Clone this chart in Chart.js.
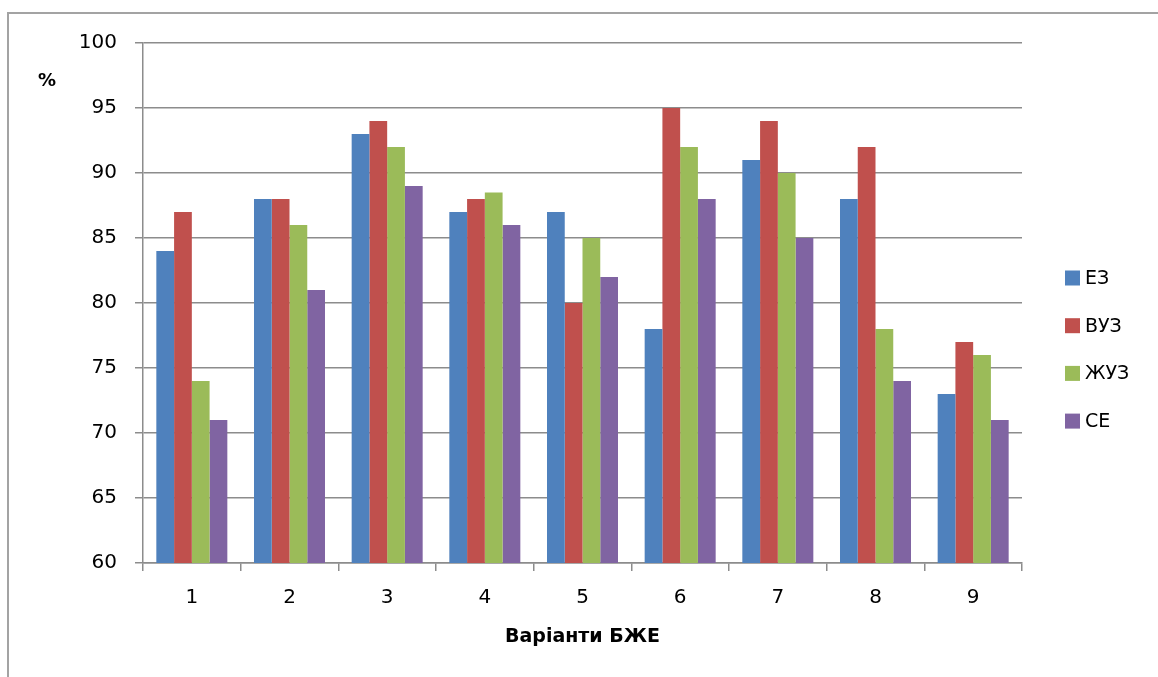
<!DOCTYPE html>
<html>
<head>
<meta charset="utf-8">
<script src="https://cdn.jsdelivr.net/npm/chart.js@4/dist/chart.umd.min.js"></script>
<style>
  html, body { margin: 0; padding: 0; background: #fff; }
  #wrap { position: relative; width: 1158px; height: 677px; overflow: hidden; }
  #frame { position: absolute; left: 7px; top: 12px; right: -10px; bottom: -10px;
           border-left: 2px solid #a3a3a3; border-top: 2px solid #a3a3a3; }
  canvas { position: absolute; left: 0; top: 0; }
</style>
</head>
<body>
<div id="wrap">
  <div id="frame"></div>
  <canvas id="chart" width="1158" height="677"></canvas>
</div>
<script>
// Варіанти БЖЕ (x categories)
const categories = ['1', '2', '3', '4', '5', '6', '7', '8', '9'];

// Series names
const seriesNames = ['ЕЗ', 'ВУЗ', 'ЖУЗ', 'СЕ'];

// Values, %
const ezValues   = [84, 88, 93, 87,   87, 78, 91, 88, 73];
const vuzValues  = [87, 88, 94, 88,   80, 95, 94, 92, 77];
const zhuzValues = [74, 86, 92, 88.5, 85, 92, 90, 78, 76];
const seValues   = [71, 81, 89, 86,   82, 88, 85, 74, 71];

// Value axis range
const yMin = 60;
const yMax = 100;
const yStep = 5;

const seriesColors = ['#4F81BD', '#C0504D', '#9BBB59', '#8064A2'];
const seriesValues = [ezValues, vuzValues, zhuzValues, seValues];

const FONT = '"DejaVu Sans", sans-serif';

// Legend on the right side, drawn beside the plot
const sideLegend = {
  id: 'sideLegend',
  afterDraw(chart) {
    const ctx = chart.ctx;
    ctx.save();
    ctx.font = '19px ' + FONT;
    ctx.textBaseline = 'middle';
    ctx.textAlign = 'left';
    chart.data.datasets.forEach((ds, i) => {
      const y = 278 + i * 47.7;
      ctx.fillStyle = ds.backgroundColor;
      ctx.fillRect(1065, y - 7.5, 15, 15);
      ctx.fillStyle = '#000';
      ctx.fillText(ds.label, 1085, y + 1);
    });
    ctx.restore();
  }
};

// Unit label above the value axis
const unitLabel = {
  id: 'unitLabel',
  afterDraw(chart) {
    const ctx = chart.ctx;
    ctx.save();
    ctx.font = 'bold 18px ' + FONT;
    ctx.fillStyle = '#000';
    ctx.textAlign = 'center';
    ctx.textBaseline = 'middle';
    ctx.fillText('%', 47, 81);
    ctx.restore();
  }
};

new Chart(document.getElementById('chart'), {
  type: 'bar',
  data: {
    labels: categories,
    datasets: seriesNames.map((name, i) => ({
      label: name,
      data: seriesValues[i],
      backgroundColor: seriesColors[i],
      borderWidth: 0,
      categoryPercentage: 0.727,
      barPercentage: 1.0
    }))
  },
  options: {
    responsive: false,
    animation: false,
    devicePixelRatio: 1,
    layout: { padding: { top: 43, left: 0, right: 136, bottom: 0 } },
    plugins: {
      legend: { display: false },
      tooltip: { enabled: false }
    },
    scales: {
      x: {
        grid: {
          drawOnChartArea: false,
          drawTicks: true,
          tickLength: 8,
          color: '#8c8c8c',
          lineWidth: 1.5
        },
        border: { display: true, color: '#8c8c8c', width: 1.5 },
        ticks: { color: '#000', font: { family: FONT, size: 20 }, padding: 15 },
        title: {
          display: true,
          text: 'Варіанти БЖЕ',
          color: '#000',
          font: { family: FONT, size: 19, weight: 'bold' },
          padding: { top: 0, bottom: 29 }
        },
        afterFit(scale) { scale.height = 114; }
      },
      y: {
        min: yMin,
        max: yMax,
        grid: {
          drawOnChartArea: true,
          drawTicks: true,
          tickLength: 8,
          color: '#8c8c8c',
          lineWidth: 1.5
        },
        border: { display: true, color: '#8c8c8c', width: 1.5 },
        ticks: {
          stepSize: yStep,
          color: '#000',
          font: { family: FONT, size: 20 },
          padding: 18
        },
        afterFit(scale) { scale.width = 143; }
      }
    }
  },
  plugins: [sideLegend, unitLabel]
});
</script>
</body>
</html>
